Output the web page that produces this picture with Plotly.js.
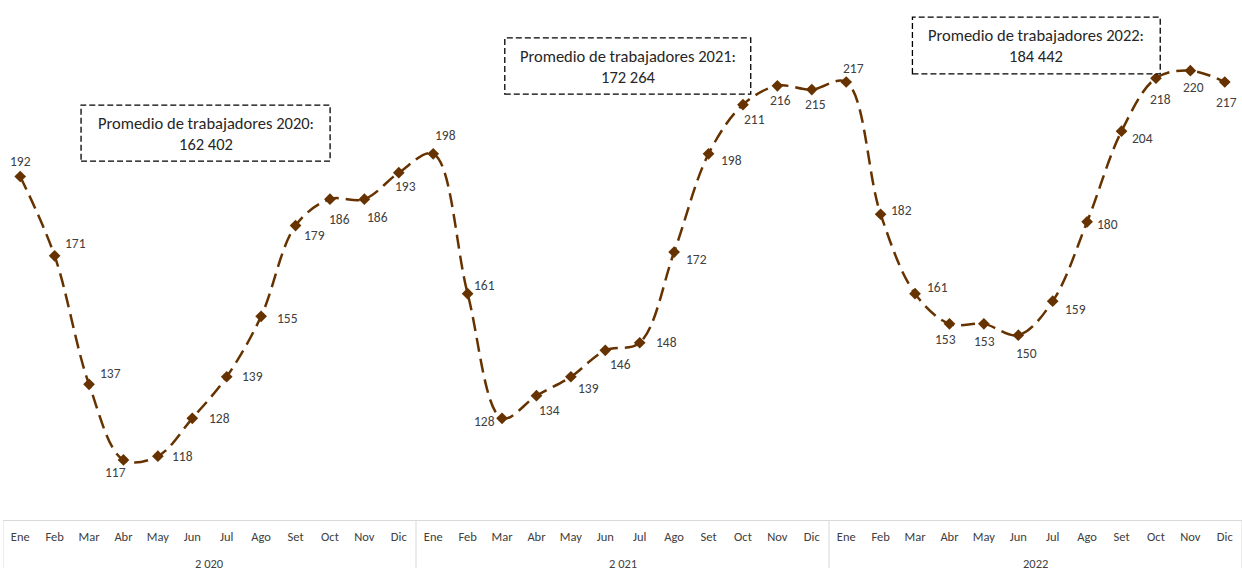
<!DOCTYPE html>
<html>
<head>
<meta charset="utf-8">
<script src="https://cdn.plot.ly/plotly-3.0.1.min.js"></script>
<style>
  html, body { margin: 0; padding: 0; background: #fff; }
  #chart { width: 1242px; height: 568px; }
</style>
</head>
<body>
<div id="chart"></div>
<script>
// ---- data ----
const years = ['2 020', '2 021', '2022'];
const months = ['Ene', 'Feb', 'Mar', 'Abr', 'May', 'Jun', 'Jul', 'Ago', 'Set', 'Oct', 'Nov', 'Dic'];
const workers = [
  192, 171, 137, 117, 118, 128, 139, 155, 179, 186, 186, 193,
  198, 161, 128, 134, 139, 146, 148, 172, 198, 211, 216, 215,
  217, 182, 161, 153, 153, 150, 159, 180, 204, 218, 220, 217
];
const averageYears = ['2020', '2021', '2022'];
const averages = ['162 402', '172 264', '184 442'];

// ---- label placement (style: pixel offsets of each value label from its marker) ----
const labelOffsets = [
  [0, -15], [21, -12], [21, -11], [-8, 13], [25, 0], [27, 0], [26, 0], [26, 2], [19, 10], [10, 20], [13, 18], [7, 14],
  [12, -18], [17, -8], [-18, 3], [13, 15], [18, 12], [15, 14], [27, 0], [22, 7], [23, 7], [12, 15], [3, 15], [4, 15],
  [7, -14], [21, -4], [22, -6], [-4, 16], [1, 18], [8, 18], [23, 8], [20, 3], [21, 7], [5, 21], [3, 17], [2, 20]
];

const FONT = 'Carlito, Lato, "Open Sans", sans-serif';
const BROWN = '#663300';

const xIdx = workers.map((_, i) => i);
const tickText = xIdx.map(i => months[i % 12]);

const trace = {
  type: 'scatter',
  mode: 'lines+markers',
  x: xIdx,
  y: workers,
  line: { shape: 'spline', smoothing: 1, color: BROWN, width: 2.5, dash: '14px,7px' },
  marker: { symbol: 'diamond', size: 9, color: BROWN },
  hoverinfo: 'x+y',
  cliponaxis: false
};

const annotations = workers.map((v, i) => ({
  x: i, y: v, xref: 'x', yref: 'y',
  text: String(v), showarrow: false,
  xanchor: 'center', yanchor: 'middle',
  xshift: labelOffsets[i][0], yshift: -labelOffsets[i][1],
  font: { family: FONT, size: 13.5, color: '#404040' }
}));

// year labels under the month labels
years.forEach((yr, k) => {
  annotations.push({
    x: k * 12 + 5.5, y: -0.083, xref: 'x', yref: 'paper',
    text: yr, showarrow: false, xanchor: 'center', yanchor: 'middle',
    font: { family: FONT, size: 12.5, color: '#404040' }
  });
});

// average boxes
const boxes = [
  { x0: 0.0630, x1: 0.2640, y0: 0.690, y1: 0.798 },
  { x0: 0.4050, x1: 0.6035, y0: 0.819, y1: 0.927 },
  { x0: 0.7340, x1: 0.9340, y0: 0.858, y1: 0.967 }
];
const shapes = [];
boxes.forEach((b, k) => {
  shapes.push({
    type: 'rect', xref: 'paper', yref: 'paper',
    x0: b.x0, x1: b.x1, y0: b.y0, y1: b.y1,
    line: { color: '#000', width: 1.3, dash: '6px,3px' },
    fillcolor: '#fff', layer: 'above'
  });
  annotations.push({
    x: (b.x0 + b.x1) / 2, y: (b.y0 + b.y1) / 2, xref: 'paper', yref: 'paper',
    xanchor: 'center', yanchor: 'middle',
    text: 'Promedio de trabajadores ' + averageYears[k] + ':<br>' + averages[k],
    showarrow: false, align: 'center',
    font: { family: FONT, size: 16.5, color: '#262626' }
  });
});

// group dividers below the axis
[-0.5, 11.5, 23.5, 35.5].forEach(xv => {
  shapes.push({
    type: 'line', xref: 'x', yref: 'paper',
    x0: xv, x1: xv, y0: 0, y1: -0.12,
    line: { color: '#d9d9d9', width: 1 }
  });
});

const layout = {
  width: 1242, height: 568,
  margin: { l: 3, r: 0, t: 0, b: 48 },
  paper_bgcolor: '#fff', plot_bgcolor: '#fff',
  showlegend: false,
  xaxis: {
    type: 'linear',
    range: [-0.5, 35.5],
    tickvals: xIdx, ticktext: tickText,
    showgrid: false, zeroline: false,
    showline: true, linecolor: '#d9d9d9', linewidth: 1,
    ticks: '', ticklabelstandoff: 5,
    tickfont: { family: FONT, size: 12.5, color: '#404040' },
    fixedrange: true
  },
  yaxis: {
    range: [101.1, 238.7],
    visible: false, showgrid: false, zeroline: false,
    fixedrange: true
  },
  annotations: annotations,
  shapes: shapes
};

Plotly.newPlot('chart', [trace], layout, { displayModeBar: false, staticPlot: true });
</script>
</body>
</html>
